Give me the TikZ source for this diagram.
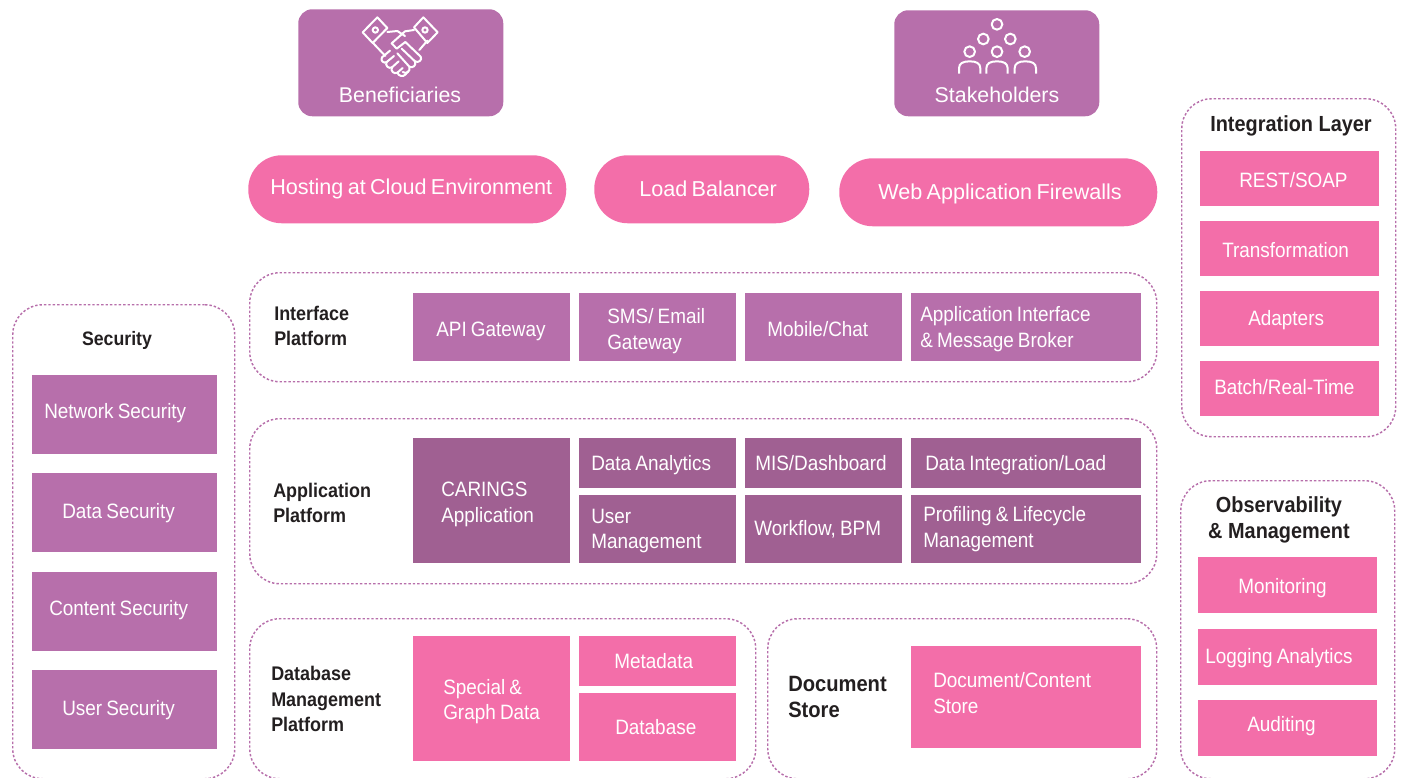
\documentclass[tikz,border=0pt]{standalone}
\usepackage{fontspec}
\setmainfont{Liberation Sans}
\newfontfamily\narrowfont[FakeStretch=0.91]{Liberation Sans}
\definecolor{plumfill}{HTML}{B76FAB}
\definecolor{plumdark}{HTML}{A06092}
\definecolor{pinkfill}{HTML}{F36EA9}
\definecolor{framedash}{HTML}{B76FAB}
\definecolor{labelink}{HTML}{231F20}
\newcommand\drop[1]{\rule{0pt}{\dimexpr 11.4pt+#1pt\relax}}
\newcommand\lift[1]{\par\vspace*{#1pt}}
\tikzset{
  tbox/.style n args={3}{anchor=north west,inner xsep=0pt,inner ysep=0pt,minimum height=#2*0.75pt,
    text width=#1*0.75pt,align=left,text=white,font=\narrowfont\fontsize{15.6}{19.2}\selectfont,
    execute at begin node={\leftskip=\dimexpr#3pt*3/4\relax\spaceskip=.2em\relax}},
  plumbox/.style={fill=plumfill},
  darkbox/.style={fill=plumdark},
  pinkbox/.style={fill=pinkfill},
  pillbox/.style={fill=pinkfill,rounded corners=33.5*0.75pt,font=\fontsize{16.2}{19}\selectfont},
  actorbox/.style={anchor=north west,fill=plumfill,rounded corners=14*0.75pt},
  framebox/.style 2 args={anchor=north west,draw=framedash,line width=1.1pt,dash pattern={on 1.8pt off 1.5pt},
    rounded corners=30*0.75pt,minimum width=#1*0.75pt,minimum height=#2*0.75pt},
  titlelabel/.style={inner sep=0pt,align=center,text=labelink,font=\narrowfont\bfseries\fontsize{16.4}{19.5}\selectfont},
  sidelabel/.style={inner sep=0pt,anchor=west,align=left,text=labelink,font=\narrowfont\bfseries\fontsize{14.8}{19.2}\selectfont},
  actorlabel/.style={inner sep=0pt,text=white,font=\fontsize{16}{19}\selectfont},
  iconline/.style={draw=white,line width=1.5pt,line join=round,line cap=round}
}
\begin{document}
\begin{tikzpicture}[x=0.75pt,y=0.75pt,yscale=-1,xscale=1]
\useasboundingbox (0,0) rectangle (1404,778);

%Frames
\node [framebox={222}{474}] (securityFrame) at (12,304) {};
\node [framebox={907}{109}] (interfaceFrame) at (249,272) {};
\node [framebox={907}{165}] (applicationFrame) at (249,418) {};
\node [framebox={506}{160}] (databaseFrame) at (249,618) {};
\node [framebox={389}{160}] (documentFrame) at (767,618) {};
\node [framebox={214}{338}] (integrationFrame) at (1181,98) {};
\node [framebox={214}{298}] (observabilityFrame) at (1180,480) {};

%Actors
\node [actorbox,minimum width=205*0.75pt,minimum height=107*0.75pt] (beneficiariesBox) at (298,9) {};
\node [actorbox,minimum width=205*0.75pt,minimum height=106*0.75pt] (stakeholdersBox) at (894,10) {};
\node [actorlabel] (beneficiariesText) at (400,95) {Beneficiaries};
\node [actorlabel] (stakeholdersText) at (997,95) {Stakeholders};

%Icon: handshake
\begin{scope}[shift={(290,0)},x=0.25pt,y=0.25pt,iconline]
\draw (218,97) -- (262,52) -- (292,84) -- (248,129) -- cycle;
\draw (372,82) -- (400,52) -- (443,97) -- (412,129) -- cycle;
\draw (256,90) circle (8);
\draw (405,90) circle (8);
\draw (292,96) -- (322,93) -- (345,108);
\draw (372,90) -- (345,94) -- (305,130) -- (320,146) -- (346,126) -- (392,170);
\draw (412,122) -- (388,150);
\draw (250,130) -- (286,168);
\draw (392,170) .. controls (398,180) and (385,190) .. (375,184) -- (335,146);
\draw (375,184) .. controls (380,196) and (368,206) .. (358,200) -- (322,160);
\draw (358,200) .. controls (362,214) and (350,224) .. (338,216);
\draw (300,152) -- (276,172) .. controls (270,182) and (282,192) .. (290,186) -- (312,168);
\draw (290,186) .. controls (284,196) and (296,208) .. (306,202) -- (326,184);
\draw (306,202) .. controls (300,212) and (312,224) .. (322,218) -- (338,204);
\draw (322,218) .. controls (326,228) and (338,232) .. (346,224) -- (354,214);
\end{scope}

%Icon: people
\begin{scope}[shift={(885,0)},x=0.25pt,y=0.25pt,iconline,line cap=butt]
\foreach \cx/\cy in {336/73,295/117,376/117,254/155,336/155,419/155}
  \draw (\cx,\cy) circle (16);
\foreach \cx in {254,336,421}
  \draw (\cx-32,221) -- (\cx-32,205) .. controls (\cx-32,190) and (\cx-20,184) .. (\cx,184) .. controls (\cx+20,184) and (\cx+32,190) .. (\cx+32,205) -- (\cx+32,221);
\end{scope}

%Pills
\node [tbox={318}{68}{22},pillbox] (hostingPill) at (248,155) {Hosting at Cloud Environment};
\node [tbox={215}{68}{45},pillbox] (balancerPill) at (594,155) {Load Balancer};
\node [tbox={318}{68}{39},pillbox] (firewallPill) at (839,158) {\drop{3}Web Application Firewalls};

%Security
\node [titlelabel,font=\narrowfont\bfseries\fontsize{14.6}{19.5}\selectfont] (securityTitle) at (117,340) {Security};
\node [tbox={185}{79}{12},plumbox] (networkBox) at (32,375) {Network Security\lift{3}};
\node [tbox={185}{79}{30},plumbox] (dataSecBox) at (32,473) {Data Security};
\node [tbox={185}{79}{17},plumbox] (contentBox) at (32,572) {Content Security\lift{2}};
\node [tbox={185}{79}{30},plumbox] (userSecBox) at (32,670) {User Security};

%Interface Platform
\node [sidelabel] (interfaceTitle) at (274,326) {Interface\\Platform};
\node [tbox={157}{68}{23},plumbox] (apiBox) at (413,293) {\drop{6}API Gateway};
\node [tbox={157}{68}{28},plumbox] (smsBox) at (579,293) {\drop{6}SMS/ Email\\Gateway};
\node [tbox={157}{68}{22},plumbox] (chatBox) at (745,293) {\drop{3}Mobile/Chat};
\node [tbox={230}{68}{9},plumbox] (brokerBox) at (911,293) {\drop{3}Application Interface\\\& Message Broker};

%Application Platform
\node [sidelabel] (applicationTitle) at (273,503) {Application\\Platform};
\node [tbox={157}{125}{28},darkbox] (caringsBox) at (413,438) {\drop{5}CARINGS\\Application};
\node [tbox={157}{50}{12},darkbox] (analyticsBox) at (579,438) {\drop{2}Data Analytics};
\node [tbox={157}{50}{10},darkbox] (misBox) at (745,438) {MIS/Dashboard};
\node [tbox={230}{50}{14},darkbox] (loadBox) at (911,438) {\drop{3}Data Integration/Load};
\node [tbox={157}{68}{12},darkbox] (userMgmtBox) at (579,495) {\drop{2}User\\Management};
\node [tbox={157}{68}{9},darkbox] (workflowBox) at (745,495) {Workflow, BPM};
\node [tbox={230}{68}{12},darkbox] (profilingBox) at (911,495) {Profiling \& Lifecycle\\Management};

%Database Management Platform
\node [sidelabel] (databaseTitle) at (271,699) {Database\\Management\\Platform};
\node [tbox={157}{125}{30},pinkbox] (graphBox) at (413,636) {\drop{4}Special \&\\Graph Data};
\node [tbox={157}{50}{35},pinkbox] (metadataBox) at (579,636) {Metadata};
\node [tbox={157}{68}{36},pinkbox] (databaseBox) at (579,693) {Database};

%Document Store
\node [sidelabel,font=\narrowfont\bfseries\fontsize{16.6}{19.5}\selectfont] (documentTitle) at (788,697) {Document\\Store};
\node [tbox={230}{102}{22},pinkbox] (contentStoreBox) at (911,646) {Document/Content\\Store\lift{6}};

%Integration Layer
\node [titlelabel] (integrationTitle) at (1291,126) {Integration Layer};
\node [tbox={179}{55}{39},pinkbox] (restBox) at (1200,151) {\drop{2}REST/SOAP};
\node [tbox={179}{55}{22},pinkbox] (transformBox) at (1200,221) {\drop{2}Transformation};
\node [tbox={179}{55}{48},pinkbox] (adaptersBox) at (1200,291) {\drop{2}Adapters};
\node [tbox={179}{55}{14},pinkbox] (batchBox) at (1200,361) {Batch/Real-Time\lift{3}};

%Observability
\node [titlelabel] (observabilityTitle) at (1279,520) {Observability\\\& Management};
\node [tbox={179}{56}{40},pinkbox] (monitoringBox) at (1198,557) {\drop{4}Monitoring};
\node [tbox={179}{56}{7},pinkbox] (loggingBox) at (1198,629) {\drop{1}Logging Analytics};
\node [tbox={179}{56}{49},pinkbox] (auditingBox) at (1198,700) {Auditing\lift{3}};

\end{tikzpicture}
\end{document}
